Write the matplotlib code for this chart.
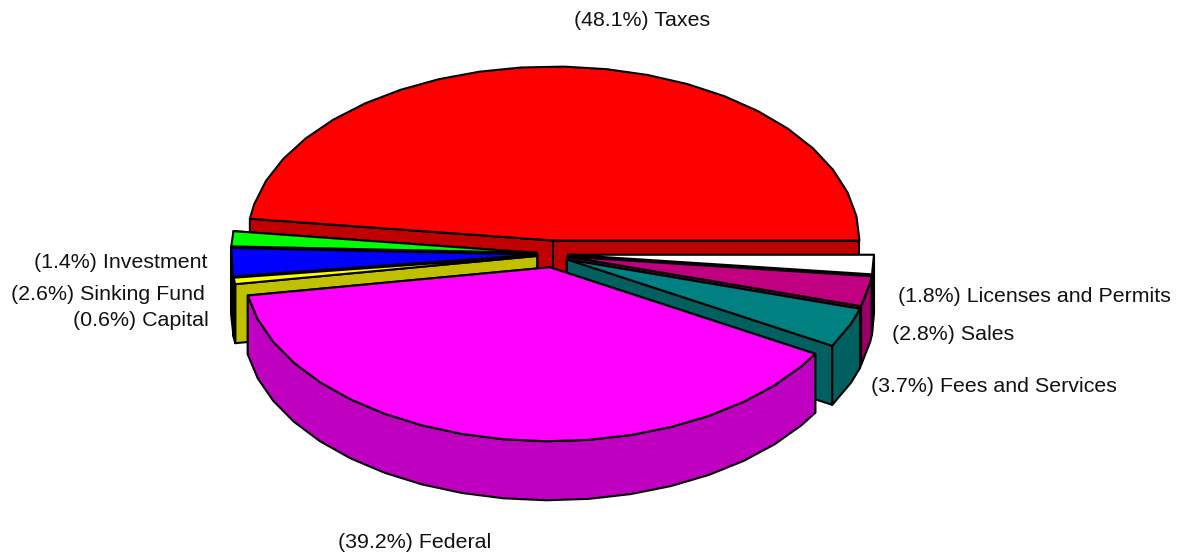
#exploded 3D looking pie of revenue sources, drawn by hand with polygons
import numpy as np
import matplotlib
matplotlib.use("Agg")
import matplotlib.pyplot as plt
from matplotlib.patches import Polygon

plt.rcParams['font.family'] = ['Liberation Sans', 'DejaVu Sans']

# slices go counter clockwise from 3 o'clock
names = ['Taxes', 'Investment', 'Sinking Fund', 'Capital', 'Federal',
         'Fees and Services', 'Sales', 'Licenses and Permits']
values = [48.1, 1.4, 2.6, 0.6, 39.2, 3.7, 2.8, 1.8]
top_colors = ['#ff0000', '#00ff00', '#0000ff', '#ffff00', '#ff00ff',
              '#008080', '#c00080', '#ffffff']
side_colors = ['#c00000', '#00c000', '#0000c0', '#c0c000', '#c000c0',
               '#006060', '#990066', '#c0c0c0']
# the order slices get painted in, back ones first
draw_order = [0, 7, 6, 5, 1, 2, 3, 4]

label_x = [574, 34, 11, 73, 338, 871, 892, 898]
label_y = [20, 262, 295, 320, 543, 386, 334, 297]

# pie size in pixels
cx, cy = 552.5, 254
rx, ry = 306, 174
depth = 59
explode_x, explode_y = 15.5, 13.5
step = 8.0

fig = plt.figure(figsize=(11.88, 5.6), dpi=100)
ax = fig.add_axes([0, 0, 1, 1])
ax.set_xlim(0, 1188)
ax.set_ylim(560, 0)
ax.axis('off')


def add_poly(pts, color):
    ax.add_patch(Polygon(pts, closed=True, facecolor=color, edgecolor='black',
                         linewidth=1.5, joinstyle='round'))


def arc_points(x0, y0, a1, a2):
    # polyline along the rim, coarse on purpose
    angles = np.arange(a1, a2, step)
    angles = np.append(angles, a2)
    rad = np.radians(angles)
    return np.column_stack([x0 + rx * np.cos(rad), y0 - ry * np.sin(rad)])


total = sum(values)
edges = np.cumsum([0] + values) / total * 360

for i in draw_order:
    a1, a2 = edges[i], edges[i + 1]
    mid = np.radians((a1 + a2) / 2)
    x0 = cx + explode_x * np.cos(mid)
    y0 = cy - explode_y * np.sin(mid)
    down = np.array([0, depth])
    apex = np.array([x0, y0])

    # the two cut faces, the lower one on screen goes last so it stays in front
    rims = [arc_points(x0, y0, a, a)[0] for a in (a1, a2)]
    rims.sort(key=lambda p: p[1])
    for rim in rims:
        add_poly([apex, rim, rim + down, apex + down], side_colors[i])

    # outer wall, only the part that faces the front
    w1, w2 = max(a1, 180), min(a2, 360)
    if w2 > w1:
        wall = arc_points(x0, y0, w1, w2)
        add_poly(np.vstack([wall, (wall + down)[::-1]]), side_colors[i])

    # top face
    add_poly(np.vstack([apex, arc_points(x0, y0, a1, a2)]), top_colors[i])

for i in range(len(names)):
    ax.text(label_x[i], label_y[i], f"({values[i]}%) {names[i]}", fontsize=15.4,
            color='#111111', ha='left', va='center')

fig.savefig('out.png', dpi=100)
